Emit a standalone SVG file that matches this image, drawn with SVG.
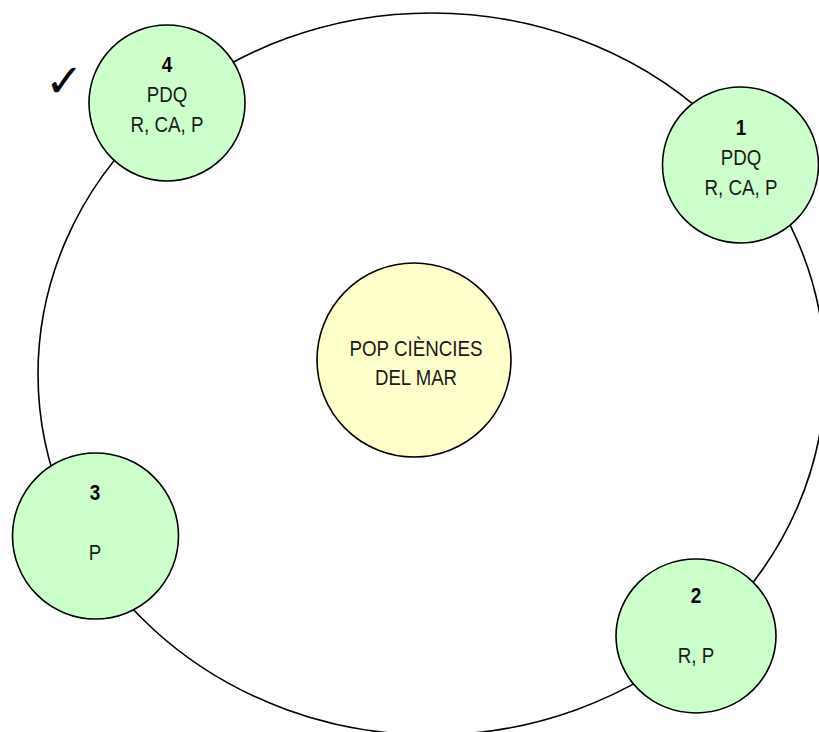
<svg xmlns="http://www.w3.org/2000/svg" width="819" height="732" viewBox="0 0 819 732">
<style>
.ring{fill:none;stroke:#000;stroke-width:1.6}
.node{fill:#CCFFCC;stroke:#000;stroke-width:1.6}
.core{fill:#FFFFCC;stroke:#000;stroke-width:1.6}
text{font-family:"Liberation Sans",Arial,sans-serif;font-size:22px;fill:#1a1a1a;text-anchor:middle}
.num{font-weight:bold;fill:#000}
.chk{font-family:"DejaVu Sans",sans-serif;font-size:46px;fill:#000;text-anchor:start}
</style>
<rect width="819" height="732" fill="#fff"/>
<g id="connectors">
<ellipse class="ring" cx="431.6" cy="374" rx="393.6" ry="361"/>
</g>
<g id="center">
<circle class="core" cx="414" cy="360" r="97"/>
<text x="416" y="356" textLength="133" lengthAdjust="spacingAndGlyphs">POP CIÈNCIES</text>
<text x="416" y="385" textLength="82" lengthAdjust="spacingAndGlyphs">DEL MAR</text>
</g>
<g id="node4">
<circle class="node" cx="167" cy="103" r="78"/>
<text class="num" x="167" y="72" textLength="10.5" lengthAdjust="spacingAndGlyphs">4</text>
<text x="167" y="102" textLength="40.5" lengthAdjust="spacingAndGlyphs">PDQ</text>
<text x="167" y="132" textLength="73" lengthAdjust="spacingAndGlyphs">R, CA, P</text>
</g>
<g id="node1">
<circle class="node" cx="740.5" cy="165" r="78"/>
<text class="num" x="741" y="135" textLength="10.5" lengthAdjust="spacingAndGlyphs">1</text>
<text x="741" y="165" textLength="40.5" lengthAdjust="spacingAndGlyphs">PDQ</text>
<text x="741" y="195" textLength="73" lengthAdjust="spacingAndGlyphs">R, CA, P</text>
</g>
<g id="node3">
<circle class="node" cx="95.5" cy="536" r="83"/>
<text class="num" x="95" y="500" textLength="10.5" lengthAdjust="spacingAndGlyphs">3</text>
<text x="95" y="560" textLength="12.5" lengthAdjust="spacingAndGlyphs">P</text>
</g>
<g id="node2">
<ellipse class="node" cx="696" cy="636" rx="80" ry="77"/>
<text class="num" x="696" y="603" textLength="10.5" lengthAdjust="spacingAndGlyphs">2</text>
<text x="696" y="663" textLength="36.5" lengthAdjust="spacingAndGlyphs">R, P</text>
</g>
<g id="check">
<text class="chk" x="45" y="97">✓</text>
</g>
</svg>
